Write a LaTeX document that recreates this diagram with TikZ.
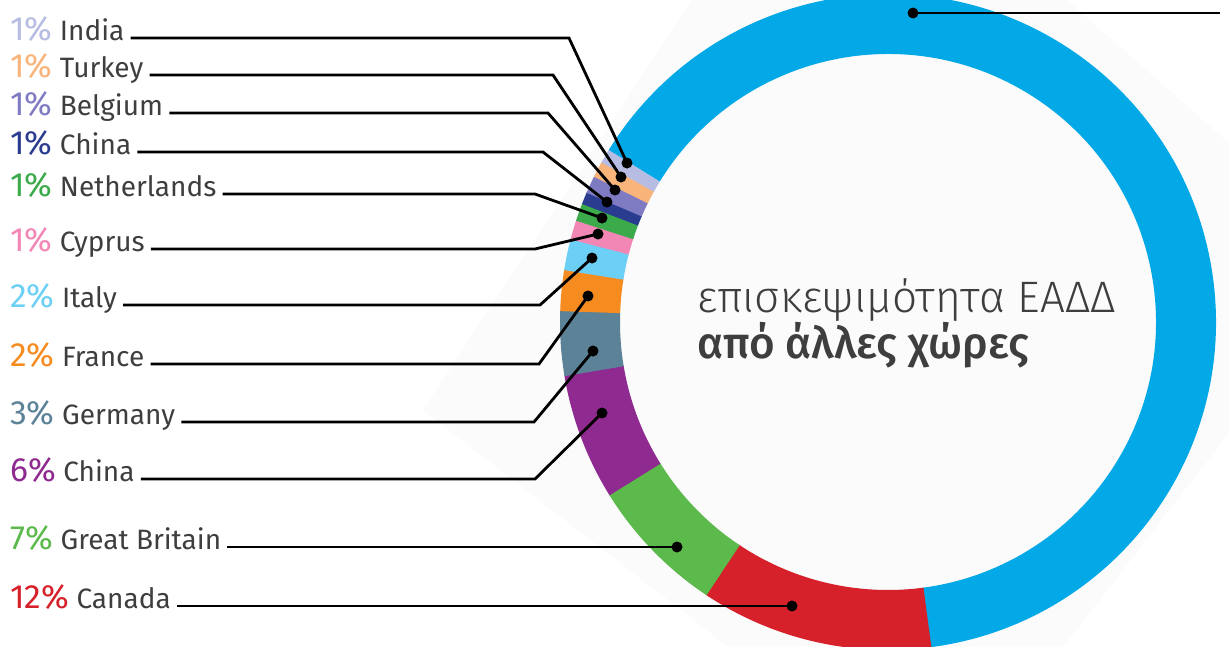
\documentclass[tikz,border=0pt]{standalone}
\usepackage{fontspec}
\setmainfont{Fira Sans}
\newfontfamily\pctfont[Scale=1.2]{Fira Sans}
\newfontfamily\thinfont{Fira Sans Light}
\newfontfamily\medfont{Fira Sans Medium}
\usepackage{tikz}

\definecolor{tgray}{HTML}{3E3E3E}
\definecolor{cBlue}{HTML}{02A9E6}
\definecolor{cIndia}{HTML}{B6BCE2}
\definecolor{cTurkey}{HTML}{F8B47A}
\definecolor{cBelgium}{HTML}{7F7BC2}
\definecolor{cChinaA}{HTML}{2A3C8F}
\definecolor{cNether}{HTML}{3AAA4A}
\definecolor{cCyprus}{HTML}{F287B5}
\definecolor{cItaly}{HTML}{6CCFF6}
\definecolor{cFrance}{HTML}{F68B1F}
\definecolor{cGermany}{HTML}{5B8297}
\definecolor{cChinaB}{HTML}{8F2A90}
\definecolor{cBritain}{HTML}{5CB94B}
\definecolor{cCanada}{HTML}{D6202A}

\tikzset{
  lab/.style={anchor=base west, inner sep=0pt, text=tgray,
    font=\fontsize{28}{30}\selectfont},
  lead/.style={line width=2.8pt, black, line join=miter},
  dot/.style={circle, fill=black, inner sep=0pt, minimum size=11pt}
}

\begin{document}
\begin{tikzpicture}[x=1pt, y=-1pt]
    \useasboundingbox (0,0) rectangle (1229,646);

    % faint backdrop square
    \fill[black!1.5] (423,410) -- (692,0) -- (1067,0) -- (1229,143)
      -- (1229,433) -- (1064,646) -- (727,646) -- cycle;

    % ring
    \begin{scope}[shift={(888,322)}, y=1pt]
      % rest
      \fill[cBlue] (277.4:328) arc[start angle=277.4, end angle=508.4, radius=328]
        -- (508.4:268) arc[start angle=508.4, end angle=277.4, radius=268] -- cycle;
      % Canada
      \fill[cCanada] (236.2:328) arc[start angle=236.2, end angle=277.6, radius=328]
        -- (277.6:268) arc[start angle=277.6, end angle=236.2, radius=268] -- cycle;
      % Great Britain
      \fill[cBritain] (211.7:328) arc[start angle=211.7, end angle=236.4, radius=328]
        -- (236.4:268) arc[start angle=236.4, end angle=211.7, radius=268] -- cycle;
      % China
      \fill[cChinaB] (189.3:328) arc[start angle=189.3, end angle=211.9, radius=328]
        -- (211.9:268) arc[start angle=211.9, end angle=189.3, radius=268] -- cycle;
      % Germany
      \fill[cGermany] (177.9:328) arc[start angle=177.9, end angle=189.5, radius=328]
        -- (189.5:268) arc[start angle=189.5, end angle=177.9, radius=268] -- cycle;
      % France
      \fill[cFrance] (170.7:328) arc[start angle=170.7, end angle=178.1, radius=328]
        -- (178.1:268) arc[start angle=178.1, end angle=170.7, radius=268] -- cycle;
      % Italy
      \fill[cItaly] (165.2:328) arc[start angle=165.2, end angle=170.9, radius=328]
        -- (170.9:268) arc[start angle=170.9, end angle=165.2, radius=268] -- cycle;
      % Cyprus
      \fill[cCyprus] (161.8:328) arc[start angle=161.8, end angle=165.4, radius=328]
        -- (165.4:268) arc[start angle=165.4, end angle=161.8, radius=268] -- cycle;
      % Netherlands
      \fill[cNether] (158.7:328) arc[start angle=158.7, end angle=162.0, radius=328]
        -- (162.0:268) arc[start angle=162.0, end angle=158.7, radius=268] -- cycle;
      % China
      \fill[cChinaA] (156.6:328) arc[start angle=156.6, end angle=158.9, radius=328]
        -- (158.9:268) arc[start angle=158.9, end angle=156.6, radius=268] -- cycle;
      % Belgium
      \fill[cBelgium] (153.5:328) arc[start angle=153.5, end angle=156.8, radius=328]
        -- (156.8:268) arc[start angle=156.8, end angle=153.5, radius=268] -- cycle;
      % Turkey
      \fill[cTurkey] (150.7:328) arc[start angle=150.7, end angle=153.7, radius=328]
        -- (153.7:268) arc[start angle=153.7, end angle=150.7, radius=268] -- cycle;
      % India
      \fill[cIndia] (148.4:328) arc[start angle=148.4, end angle=150.9, radius=328]
        -- (150.9:268) arc[start angle=150.9, end angle=148.4, radius=268] -- cycle;
    \end{scope}

    % title
    \node[anchor=base west, inner sep=0pt, text=tgray,
      font=\thinfont\fontsize{44}{46}\selectfont] (title) at (697,312)
      {επισκεψιμότητα ΕΑΔΔ};
    \node[anchor=base west, inner sep=0pt, text=tgray,
      font=\medfont\fontsize{44}{46}\selectfont] (subtitle) at (697,358)
      {από άλλες χώρες};

    % labels
    \node[lab] (lIndia) at (10,40) {\textcolor{cIndia}{\pctfont 1\%} India};
    \node[lab] (lTurkey) at (10,77) {\textcolor{cTurkey}{\pctfont 1\%} Turkey};
    \node[lab] (lBelgium) at (10,115) {\textcolor{cBelgium}{\pctfont 1\%} Belgium};
    \node[lab] (lChinaA) at (10,154) {\textcolor{cChinaA}{\pctfont 1\%} China};
    \node[lab] (lNether) at (10,196) {\textcolor{cNether}{\pctfont 1\%} Netherlands};
    \node[lab] (lCyprus) at (10,251) {\textcolor{cCyprus}{\pctfont 1\%} Cyprus};
    \node[lab] (lItaly) at (10,307) {\textcolor{cItaly}{\pctfont 2\%} Italy};
    \node[lab] (lFrance) at (10,366) {\textcolor{cFrance}{\pctfont 2\%} France};
    \node[lab] (lGermany) at (10,424) {\textcolor{cGermany}{\pctfont 3\%} Germany};
    \node[lab] (lChinaB) at (10,481) {\textcolor{cChinaB}{\pctfont 6\%} China};
    \node[lab] (lBritain) at (10,549) {\textcolor{cBritain}{\pctfont 7\%} Great Britain};
    \node[lab] (lCanada) at (10,608) {\textcolor{cCanada}{\pctfont 12\%} Canada};

    % dots on the ring
    \node[dot] (dBlue) at (913,13) {};
    \node[dot] (dIndia) at (627,163) {};
    \node[dot] (dTurkey) at (621,177) {};
    \node[dot] (dBelgium) at (615,190) {};
    \node[dot] (dChinaA) at (607,202) {};
    \node[dot] (dNether) at (602,218) {};
    \node[dot] (dCyprus) at (598,234) {};
    \node[dot] (dItaly) at (592,258) {};
    \node[dot] (dFrance) at (588,296) {};
    \node[dot] (dGermany) at (593,351) {};
    \node[dot] (dChinaB) at (602,413) {};
    \node[dot] (dBritain) at (677,547) {};
    \node[dot] (dCanada) at (792,606) {};

    % leaders
    \coordinate (blueEnd) at (1220,13);
    \draw[lead] (dBlue.center) -- (blueEnd);
    \draw[lead] ([shift={(6,-2)}]lIndia.base east) -- (569,38) -- (dIndia.center);
    \draw[lead] ([shift={(6,-2)}]lTurkey.base east) -- (553,75) -- (dTurkey.center);
    \draw[lead] ([shift={(6,-2)}]lBelgium.base east) -- (548,113) -- (dBelgium.center);
    \draw[lead] ([shift={(6,-2)}]lChinaA.base east) -- (543,152) -- (dChinaA.center);
    \draw[lead] ([shift={(6,-2)}]lNether.base east) -- (535,194) -- (dNether.center);
    \draw[lead] ([shift={(6,-2)}]lCyprus.base east) -- (535,249) -- (dCyprus.center);
    \draw[lead] ([shift={(6,-2)}]lItaly.base east) -- (540,305) -- (dItaly.center);
    \draw[lead] ([shift={(6,-2)}]lFrance.base east) -- (539,364) -- (dFrance.center);
    \draw[lead] ([shift={(6,-2)}]lGermany.base east) -- (534,422) -- (dGermany.center);
    \draw[lead] ([shift={(6,-2)}]lChinaB.base east) -- (535,479) -- (dChinaB.center);
    \draw[lead] ([shift={(6,-2)}]lBritain.base east) -- (dBritain.center);
    \draw[lead] ([shift={(6,-2)}]lCanada.base east) -- (dCanada.center);
\end{tikzpicture}
\end{document}
